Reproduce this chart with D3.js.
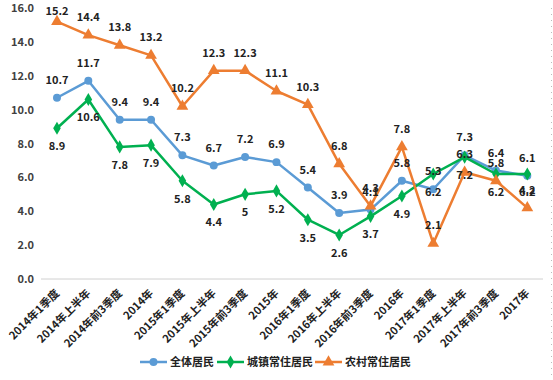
<!DOCTYPE html>
<html><head><meta charset="utf-8">
<script src="https://cdn.jsdelivr.net/npm/d3@7"></script>
<style>
body{margin:0;background:#fff;}
text{font-family:"Noto Sans CJK SC","DejaVu Sans",sans-serif;}
</style></head>
<body><svg id="c" width="553" height="380"></svg>
<script>
const categories=["2014年1季度","2014年上半年","2014年前3季度","2014年","2015年1季度","2015年上半年","2015年前3季度","2015年","2016年1季度","2016年上半年","2016年前3季度","2016年","2017年1季度","2017年上半年","2017年前3季度","2017年"];
const allResidents=[10.7,11.7,9.4,9.4,7.3,6.7,7.2,6.9,5.4,3.9,4.1,5.8,5.3,7.3,6.4,6.1];
const urbanResidents=[8.9,10.6,7.8,7.9,5.8,4.4,5,5.2,3.5,2.6,3.7,4.9,6.2,7.2,6.2,6.2];
const ruralResidents=[15.2,14.4,13.8,13.2,10.2,12.3,12.3,11.1,10.3,6.8,4.3,7.8,2.1,6.3,5.8,4.2];
const yTicks=[0,2,4,6,8,10,12,14,16];
const seriesNames=["全体居民","城镇常住居民","农村常住居民"];

const svg=d3.select("#c");
const x=d3.scaleBand().domain(categories).range([41.3,543]).padding(0);
const cx=d=>x(d)+x.bandwidth()/2;
const y=d3.scaleLinear().domain([0,16]).range([279,8]);

// baseline
svg.append("line").attr("x1",41).attr("x2",543).attr("y1",y(0)).attr("y2",y(0)).attr("stroke","#d0d0d0").attr("stroke-width",1);
// right dotted border
svg.append("line").attr("x1",551.5).attr("x2",551.5).attr("y1",8).attr("y2",380).attr("stroke","#bbb").attr("stroke-dasharray","1,5");

// y axis
const yAxis=d3.axisLeft(y).tickValues(yTicks).tickFormat(d3.format(".1f")).tickSize(0).tickPadding(0);
const ya=svg.append("g").attr("transform","translate(34,0)").call(yAxis);
ya.select(".domain").remove();
ya.selectAll("text").attr("font-size",11).attr("font-weight","bold").attr("fill","#404040").attr("font-family","'Noto Sans CJK SC',sans-serif");

// x axis
const xAxis=d3.axisBottom(x).tickSize(0).tickPadding(0);
const xa=svg.append("g").attr("transform","translate(0,279)").call(xAxis);
xa.select(".domain").remove();
xa.selectAll("text").attr("font-size",11).attr("font-weight","bold").attr("fill","#222")
 .attr("font-family","'Noto Sans CJK SC',sans-serif")
 .attr("text-anchor","end").attr("dy",0).attr("y",0)
 .attr("transform","translate(3,15) rotate(-45)");

const series=[
 {name:seriesNames[0],vals:allResidents,color:"#5B9BD5",sym:d3.symbolCircle,size:50,lab:-1},
 {name:seriesNames[1],vals:urbanResidents,color:"#00B050",sym:d3.symbolDiamond,size:50,lab:1},
 {name:seriesNames[2],vals:ruralResidents,color:"#ED7D31",sym:d3.symbolTriangle,size:60,lab:-1}
];
const line=d3.line().x(d=>cx(d.c)).y(d=>y(d.v));
series.forEach(s=>{
  const pts=categories.map((c,i)=>({c,v:s.vals[i]}));
  svg.append("path").datum(pts).attr("d",line).attr("fill","none").attr("stroke",s.color).attr("stroke-width",2.5).attr("stroke-linejoin","round");
  svg.append("g").selectAll("path").data(pts).join("path")
   .attr("d",d3.symbol().type(s.sym).size(s.size))
   .attr("transform",d=>`translate(${cx(d.c)},${y(d.v)})`).attr("fill",s.color);
});
series.forEach(s=>{
  const pts=categories.map((c,i)=>({c,v:s.vals[i]}));
  svg.append("g").selectAll("text").data(pts).join("text")
   .attr("x",d=>cx(d.c)).attr("y",d=>Math.max(11,y(d.v)+s.lab*18)+4)
   .attr("text-anchor","middle").attr("font-size",11).attr("font-weight","bold").attr("fill","#222")
   .text(d=>String(d.v));
});

// legend
const legX=[140,217,315];
series.forEach((s,i)=>{
  const g=svg.append("g").attr("transform",`translate(${legX[i]},362)`);
  g.append("line").attr("x1",0).attr("x2",27).attr("stroke",s.color).attr("stroke-width",2.5);
  g.append("path").attr("d",d3.symbol().type(s.sym).size(s.size)).attr("transform","translate(13.5,0)").attr("fill",s.color);
  g.append("text").attr("x",30).attr("y",4).attr("font-size",11).attr("font-weight","bold").attr("fill","#222").text(s.name);
});
</script></body></html>
